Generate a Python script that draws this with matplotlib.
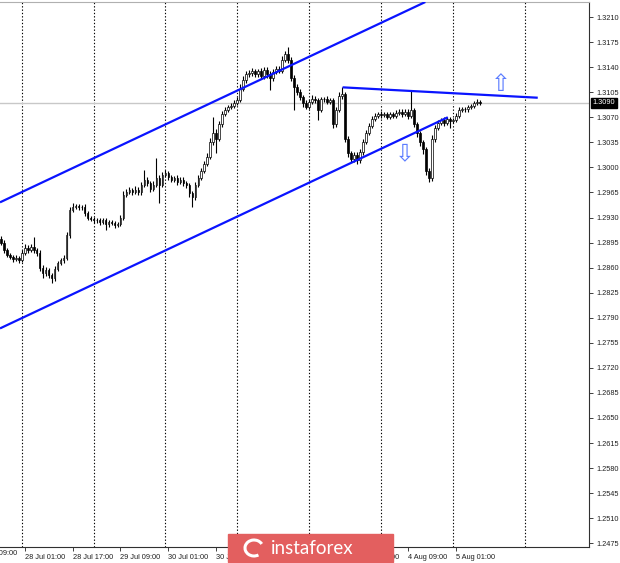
import matplotlib
matplotlib.use("Agg")
import matplotlib.pyplot as plt
import matplotlib.patches as mpatches
import matplotlib.transforms as mtransforms
import numpy as np

# ── Data: hourly closes (GBP/USD H1), wick sizes in pips ─────────────────────
FIRST_OPEN = 1.2900
CLOSES = [
    1.2895, 1.2885, 1.2878, 1.2875, 1.2872, 1.2874, 1.2871, 1.2880, 1.2888, 1.2885,
    1.2889, 1.2884, 1.2880, 1.2860, 1.2852, 1.2856, 1.2850, 1.2845, 1.2858, 1.2866,
    1.2870, 1.2874, 1.2905, 1.2940, 1.2945, 1.2946, 1.2944, 1.2945, 1.2936, 1.2930,
    1.2928, 1.2927, 1.2926, 1.2924, 1.2926, 1.2921, 1.2924, 1.2922, 1.2920, 1.2921,
    1.2930, 1.2962, 1.2966, 1.2968, 1.2966, 1.2969, 1.2965, 1.2975, 1.2982, 1.2978,
    1.2970, 1.2976, 1.2985, 1.2975, 1.2990, 1.2992, 1.2986, 1.2982, 1.2985, 1.2980,
    1.2983, 1.2978, 1.2975, 1.2964, 1.2958, 1.2975, 1.2985, 1.2995, 1.3005, 1.3015,
    1.3035, 1.3048, 1.3040, 1.3060, 1.3075, 1.3080, 1.3084, 1.3086, 1.3090, 1.3094,
    1.3110, 1.3122, 1.3130, 1.3132, 1.3134, 1.3130, 1.3134, 1.3128, 1.3136, 1.3130,
    1.3125, 1.3133, 1.3138, 1.3135, 1.3150, 1.3158, 1.3150, 1.3125, 1.3112, 1.3105,
    1.3098, 1.3090, 1.3085, 1.3092, 1.3096, 1.3094, 1.3080, 1.3095, 1.3096, 1.3092,
    1.3094, 1.3060, 1.3080, 1.3100, 1.3102, 1.3040, 1.3020, 1.3012, 1.3018, 1.3010,
    1.3022, 1.3035, 1.3048, 1.3058, 1.3068, 1.3072, 1.3075, 1.3073, 1.3074, 1.3071,
    1.3074, 1.3072, 1.3076, 1.3078, 1.3075, 1.3078, 1.3072, 1.3080, 1.3060, 1.3048,
    1.3035, 1.3025, 1.2995, 1.2985, 1.3040, 1.3055, 1.3062, 1.3066, 1.3062, 1.3068,
    1.3065, 1.3066, 1.3072, 1.3080, 1.3082, 1.3081, 1.3084, 1.3086, 1.3090, 1.3092,
    1.3090,
]
UPPER_WICK = [
    4, 3, 3, 2, 3, 3, 2, 4, 5, 3, 4, 14, 3, 4, 3, 5, 3, 3, 4, 3,
    3, 4, 5, 4, 5, 3, 3, 3, 4, 3, 2, 3, 3, 3, 3, 3, 3, 3, 3, 3,
    4, 5, 4, 4, 3, 5, 4, 5, 14, 4, 3, 5, 28, 4, 4, 4, 3, 4, 3, 4,
    3, 4, 3, 3, 3, 4, 4, 4, 4, 5, 6, 23, 5, 5, 4, 4, 3, 4, 4, 4,
    6, 5, 5, 4, 5, 4, 4, 5, 4, 4, 4, 5, 4, 4, 6, 5, 10, 4, 4, 4,
    4, 3, 4, 4, 5, 4, 3, 4, 3, 4, 3, 3, 4, 5, 10, 3, 4, 3, 4, 3,
    3, 4, 4, 4, 4, 4, 3, 4, 3, 4, 3, 3, 4, 3, 3, 3, 3, 28, 3, 3,
    3, 3, 3, 4, 5, 4, 4, 3, 4, 3, 3, 3, 4, 4, 3, 3, 3, 3, 3, 3,
    2,
]
LOWER_WICK = [
    3, 4, 3, 3, 4, 3, 4, 3, 3, 4, 3, 3, 4, 5, 6, 4, 4, 7, 3, 3,
    3, 3, 3, 3, 3, 3, 3, 3, 4, 4, 3, 4, 3, 4, 3, 9, 4, 3, 4, 3,
    3, 3, 4, 3, 4, 3, 4, 3, 3, 4, 5, 3, 3, 25, 3, 3, 4, 3, 3, 4,
    3, 4, 4, 5, 13, 4, 3, 3, 3, 3, 3, 4, 20, 3, 3, 3, 3, 3, 3, 3,
    3, 3, 4, 4, 5, 4, 4, 5, 4, 5, 17, 4, 3, 3, 3, 3, 4, 4, 32, 4,
    4, 5, 4, 3, 4, 4, 14, 3, 4, 3, 4, 5, 4, 3, 4, 5, 6, 4, 5, 5,
    4, 4, 3, 3, 3, 3, 3, 4, 3, 4, 3, 3, 3, 3, 4, 3, 4, 3, 4, 5,
    5, 6, 5, 6, 4, 4, 3, 3, 4, 3, 10, 3, 3, 3, 3, 3, 3, 3, 3, 3,
    3,
]

# trend lines: (bar_start, price_start, bar_end, price_end)
UPPER_CHANNEL = (-0.2, 1.29512, 141.7, 1.3231)
LOWER_CHANNEL = (-0.2, 1.27751, 149.2, 1.3070)
TRIANGLE_TOP = (114.1, 1.31118, 179.2, 1.30973)

Y_TICKS = [1.2475, 1.2510, 1.2545, 1.2580, 1.2615, 1.2650, 1.2685, 1.2720,
           1.2755, 1.2790, 1.2825, 1.2860, 1.2895, 1.2930, 1.2965, 1.3000,
           1.3035, 1.3070, 1.3105, 1.3140, 1.3175, 1.3210]
X_TICK_BARS = [-8, 8, 24, 40, 56, 72, 88, 104, 120, 136, 152]
X_TICK_LABELS = ["27 Jul 09:00", "28 Jul 01:00", "28 Jul 17:00", "29 Jul 09:00",
                 "30 Jul 01:00", "30 Jul 17:00", "31 Jul 09:00", "3 Aug 01:00",
                 "3 Aug 17:00", "4 Aug 09:00", "5 Aug 01:00"]
DAY_GRID_BARS = [7, 31, 55, 79, 103, 127, 151, 175]
LAST_PRICE = 1.3090

# ── Figure ───────────────────────────────────────────────────────────────────
fig = plt.figure(figsize=(6.2, 5.63), dpi=100)
fig.patch.set_facecolor("white")
ax = fig.add_axes([0.0, 1 - 547 / 563, 589 / 620, 545 / 563])

closes = np.array(CLOSES)
opens = np.concatenate([[FIRST_OPEN], closes[:-1]])
highs = np.maximum(opens, closes) + np.array(UPPER_WICK) * 0.0001
lows = np.minimum(opens, closes) - np.array(LOWER_WICK) * 0.0001
x = np.arange(len(closes))

# day separators
for b in DAY_GRID_BARS:
    ax.axvline(b, color="black", linestyle=(0, (1.2, 1.8)), linewidth=0.8, zorder=1)

# current price line
ax.axhline(LAST_PRICE, color="#c8c8c8", linewidth=1.0, zorder=1)

# candles
ax.vlines(x, lows, highs, color="black", linewidth=0.8, zorder=3)
bull = closes >= opens
body_bottom = np.minimum(opens, closes)
body_h = np.maximum(np.abs(closes - opens), 0.00005)
ax.bar(x[bull], body_h[bull], bottom=body_bottom[bull], width=0.62,
       color="white", edgecolor="black", linewidth=0.5, zorder=4)
ax.bar(x[~bull], body_h[~bull], bottom=body_bottom[~bull], width=0.62,
       color="black", edgecolor="black", linewidth=0.5, zorder=4)

# trend lines
for x0, y0, x1, y1 in (UPPER_CHANNEL, LOWER_CHANNEL, TRIANGLE_TOP):
    ax.plot([x0, x1], [y0, y1], color="#0a14ff", linewidth=1.6, zorder=5,
            solid_capstyle="butt")

# arrows
ax.text(167, 1.3116, "\u21e7", color="#5b7cff", fontsize=17, ha="center",
        va="center", zorder=6)
ax.text(135, 1.3020, "\u21e9", color="#5b7cff", fontsize=17, ha="center",
        va="center", zorder=6)

# axes
ax.yaxis.tick_right()
ax.set_yticks(Y_TICKS)
ax.set_yticklabels([f"{v:.4f}" for v in Y_TICKS], fontsize=5.3,
                   family="Liberation Sans", color="#202020")
ax.tick_params(axis="y", length=3, width=0.6, pad=2, colors="#202020")
ax.set_xticks(X_TICK_BARS[1:])
ax.set_xticklabels(X_TICK_LABELS[1:], fontsize=5.3, family="Liberation Sans",
                   ha="left", color="#202020")
ax.tick_params(axis="x", length=3, width=0.6, pad=2, colors="#202020")
ax.set_xlim(-0.2, 196.3)
ax.set_ylim(1.24698, 1.3231)
ax.spines["left"].set_visible(False)
ax.spines["top"].set_color("#b0b0b0")
ax.spines["right"].set_color("#303030")
ax.spines["bottom"].set_color("#303030")
for s in ("right", "bottom", "top"):
    ax.spines[s].set_linewidth(0.8)

# first date label, cut off by the left edge as in the terminal
label_tr = mtransforms.blended_transform_factory(ax.transData, ax.transAxes)
ax.text(X_TICK_BARS[0], -0.0055, X_TICK_LABELS[0], transform=label_tr,
        fontsize=5.3, family="Liberation Sans", color="#202020",
        ha="left", va="top", clip_on=False)

# last price label
ax.text(1.006, LAST_PRICE, f"{LAST_PRICE:.4f}", transform=ax.get_yaxis_transform(),
        fontsize=5.3, family="Liberation Sans", color="white", va="center",
        ha="left", bbox=dict(boxstyle="square,pad=0.25", fc="black", ec="black"),
        zorder=10, clip_on=False)

# watermark
fig.patches.append(mpatches.Rectangle((228 / 620, 1 - 562 / 563), 165 / 620, 28 / 563,
                                      transform=fig.transFigure, color="#e35f5f",
                                      zorder=20))
fig.patches.append(mpatches.Arc((254 / 620, 1 - 548 / 563), 18 / 620, 16 / 563,
                                theta1=30, theta2=300, transform=fig.transFigure,
                                color="white", linewidth=2.2, zorder=21))
fig.text(271 / 620, 1 - 549 / 563, "instaforex", color="white", fontsize=13.5,
         family="Lato", va="center", ha="left", zorder=22)

fig.savefig("out.png", dpi=100)
